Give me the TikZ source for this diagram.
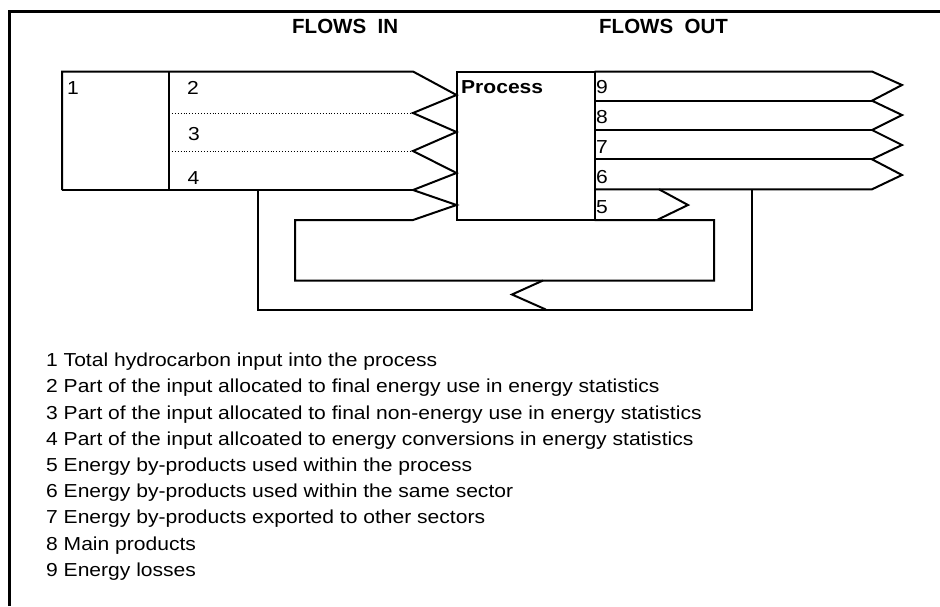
\documentclass[tikz,border=0pt]{standalone}
\usepackage{fontspec}
\newfontfamily\lgfont[FakeStretch=1.12]{Liberation Sans}
\newfontfamily\hdfont{Liberation Sans}
\begin{document}
\begin{tikzpicture}[x=1pt,y=-1pt,
  frame/.style={line width=3.3pt},
  edge/.style={line width=2pt, line join=miter},
  dots/.style={line width=0.9pt, dotted},
  lbl/.style={inner sep=0pt, anchor=base west, font=\lgfont\fontsize{18.8}{22}\selectfont},
  lblb/.style={lbl, font=\lgfont\bfseries\fontsize{18.8}{22}\selectfont},
  head/.style={inner sep=0pt, anchor=base west, font=\hdfont\bfseries\fontsize{20.5}{24}\selectfont}]
\useasboundingbox (0,0) rectangle (940,606);
\fill[white] (0,0) rectangle (940,606);
% frame (only top and left visible)
\draw[frame] (9.8,606) -- (9.8,11.7) -- (940,11.7);
% headings
\node[head] (hin) at (292,33.3) {FLOWS\ \ IN};
\node[head] (hout) at (599,33.3) {FLOWS\ \ OUT};
% key points
\coordinate (inTL) at (62,71.5);
\coordinate (inBL) at (62,190);
\coordinate (divT) at (169,71.5);
\coordinate (divB) at (169,190);
% input arrows
\draw[edge] (inBL) -- (inTL) -- (413,71.5) -- (456.5,95) -- (413,113) -- (456.5,132)
  -- (413,151) -- (456.5,173) -- (413,190) -- (456.5,205) -- (413,220) -- (295,220)
  -- (295,280.5) -- (714,280.5) -- (714,220) -- (594.5,220);
\draw[edge] (inBL) -- (413,190);
\draw[edge] (divT) -- (divB);
\draw[dots] (169,113) -- (413,113);
\draw[dots] (169,151) -- (413,151);
% process box
\draw[edge] (456.5,71.5) rectangle (594.5,220);
% output arrows
\draw[edge] (594.5,71.5) -- (872,71.5) -- (902,85) -- (872,100.7) -- (902,115) -- (872,130)
  -- (902,145) -- (872,159.3) -- (902,175) -- (872,189.3) -- (594.5,189.3);
\draw[edge] (594.5,100.7) -- (872,100.7);
\draw[edge] (594.5,130) -- (872,130);
\draw[edge] (594.5,159.3) -- (872,159.3);
% by-product 5 chevron
\draw[edge] (659,189.3) -- (688,205) -- (657,220);
% outer loop
\draw[edge] (258,190) -- (258,309.5) -- (752,309.5) -- (752,189.3);
% loop chevron
\draw[edge] (543,280.5) -- (512,294.5) -- (545.8,309.5);
% labels
\node[lbl] (l1) at (67,94) {1};
\node[lbl] (l2) at (187,94) {2};
\node[lbl] (l3) at (188,140) {3};
\node[lbl] (l4) at (187.5,184) {4};
\node[lblb] (proc) at (461,93.3) {Process};
\node[lbl] (l9) at (596,93.3) {9};
\node[lbl] (l8) at (596,123.3) {8};
\node[lbl] (l7) at (596,153.3) {7};
\node[lbl] (l6) at (596,183.3) {6};
\node[lbl] (l5) at (596,213.3) {5};
% legend
\node[lbl] (k1) at (46,366.7) {1 Total hydrocarbon input into the process};
\node[lbl] (k2) at (46,392.9) {2 Part of the input allocated to final energy use in energy statistics};
\node[lbl] (k3) at (46,419.1) {3 Part of the input allocated to final non-energy use in energy statistics};
\node[lbl] (k4) at (46,445.3) {4 Part of the input allcoated to energy conversions in energy statistics};
\node[lbl] (k5) at (46,471.5) {5 Energy by-products used within the process};
\node[lbl] (k6) at (46,497.7) {6 Energy by-products used within the same sector};
\node[lbl] (k7) at (46,523.9) {7 Energy by-products exported to other sectors};
\node[lbl] (k8) at (46,550.1) {8 Main products};
\node[lbl] (k9) at (46,576.3) {9 Energy losses};
\end{tikzpicture}
\end{document}
